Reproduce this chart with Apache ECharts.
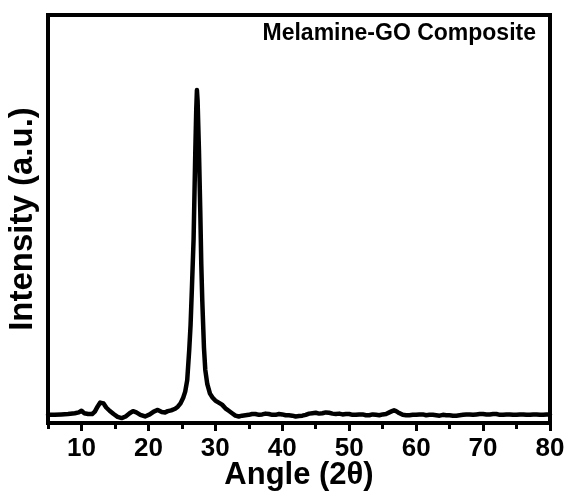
<!DOCTYPE html>
<html>
<head>
<meta charset="utf-8">
<style>
  html, body { margin: 0; padding: 0; background: #fff; }
  #chart { width: 569px; height: 495px; }
</style>
<script src="https://cdn.jsdelivr.net/npm/echarts@6/dist/echarts.min.js"></script>
</head>
<body>
<div id="chart"></div>
<script>
// XRD pattern of the melamine-GO composite: diffraction angle (2θ, degrees)
const angles = [
  5, 6, 7, 8, 9, 9.6, 10, 10.4, 11, 11.6, 12.0, 12.4, 12.8, 13.0, 13.3, 13.7, 14.2, 14.8,
  15.4, 16.0, 16.6, 17.2, 17.7, 18.2, 18.8, 19.5, 20.2, 20.8, 21.4, 22.0, 22.5, 22.9, 23.4,
  24.0, 24.4, 24.8, 25.2, 25.5, 25.8, 26.1, 26.3, 26.5, 26.75, 27.0, 27.15, 27.25, 27.35,
  27.55, 27.75, 27.9, 28.05, 28.3, 28.5, 28.8, 29.2, 29.6, 30.0, 30.5, 31.0, 31.5, 32.0,
  32.5, 33.0, 33.5, 34, 34.5, 35, 35.5, 36, 36.5, 37, 37.5, 38, 38.5, 39, 39.5, 40, 40.5,
  41, 41.5, 42, 42.5, 43, 43.5, 44, 44.5, 45, 45.5, 46, 46.5, 47, 47.5, 48, 48.5, 49, 49.5,
  50, 50.5, 51, 51.5, 52, 52.5, 53, 53.5, 54, 54.5, 55, 55.5, 56, 56.4, 56.7, 57.0, 57.3,
  58, 58.5, 59, 59.5, 60, 60.5, 61, 61.5, 62, 62.5, 63, 63.5, 64, 64.5, 65, 65.5, 66, 66.5,
  67, 67.5, 68, 68.5, 69, 69.5, 70, 70.5, 71, 71.5, 72, 72.5, 73, 73.5, 74, 74.5, 75, 75.5,
  76, 76.5, 77, 77.5, 78, 78.5, 79, 79.5, 80
];
// Intensity in arbitrary units, one value per angle above
const intensity = [
  2.0, 2.0, 2.1, 2.2, 2.4, 2.6, 3.0, 2.4, 2.2, 2.2, 2.8, 4.0, 5.0, 5.2, 4.8, 3.8, 3.0, 2.2,
  1.5, 1.2, 1.6, 2.4, 2.9, 2.6, 2.0, 1.6, 2.1, 2.8, 3.2, 2.7, 2.6, 2.9, 3.1,
  3.5, 4.0, 4.8, 6.2, 7.7, 10.5, 17.9, 24.0, 33.0, 45.0, 66.0, 77.0, 81.6, 79.0,
  67.0, 52.0, 39.0, 30.0, 18.5, 13.0, 9.5, 7.2, 6.2, 5.5, 5.0, 4.5, 3.6, 3.0,
  2.4, 1.8, 1.6, 1.8, 1.9, 2.0, 2.2, 2.2, 2.0, 2.1, 2.3, 2.2, 2.0, 2.0, 2.2, 2.1, 1.9,
  1.9, 1.8, 1.6, 1.7, 1.8, 2.0, 2.3, 2.4, 2.5, 2.3, 2.4, 2.6, 2.5, 2.3, 2.2, 2.3, 2.1, 2.2,
  2.2, 2.0, 2.0, 2.1, 2.1, 1.9, 1.9, 2.1, 2.0, 1.9, 2.1, 2.2, 2.6, 2.9, 3.1, 2.9, 2.6,
  2.0, 1.9, 1.9, 2.0, 2.0, 2.1, 2.1, 1.9, 2.0, 2.0, 1.9, 1.8, 2.0, 1.9, 1.9, 1.8, 1.8, 1.9,
  2.0, 2.1, 2.1, 2.0, 2.1, 2.2, 2.2, 2.1, 2.1, 2.2, 2.2, 2.0, 2.0, 2.1, 2.1, 2.0, 2.0, 2.1,
  2.1, 2.0, 2.0, 2.1, 2.1, 2.0, 2.0, 2.1, 2.1
];
// Labelled (major) and unlabelled (minor) tick positions on the angle axis
const majorTicks = [10, 20, 30, 40, 50, 60, 70, 80];
const minorTicks = [5, 15, 25, 35, 45, 55, 65, 75];

const FONT = '"Liberation Sans", Arial, sans-serif';
const points = angles.map((a, i) => [a, intensity[i]]);

const chart = echarts.init(document.getElementById('chart'), null, { renderer: 'canvas' });
chart.setOption({
  animation: false,
  backgroundColor: '#ffffff',
  title: {
    text: 'Melamine-GO Composite',
    right: 28,
    top: 17,
    textStyle: { fontFamily: FONT, fontWeight: 'bold', fontSize: 23, color: '#000' }
  },
  grid: {
    left: 48, right: 19, top: 15, bottom: 72,
    outerBoundsMode: 'none',
    show: true, borderColor: '#000', borderWidth: 4, backgroundColor: 'transparent'
  },
  xAxis: [
    {
      type: 'value', min: 5, max: 80,
      name: 'Angle (2θ)', nameLocation: 'middle', nameGap: 37, nameMoveOverlap: false,
      nameTextStyle: { fontFamily: FONT, fontWeight: 'bold', fontSize: 31, color: '#000' },
      axisLine: { show: true, lineStyle: { color: '#000', width: 4 } },
      axisTick: { show: true, customValues: majorTicks, length: 8, inside: false,
                  lineStyle: { color: '#000', width: 3 } },
      axisLabel: { customValues: majorTicks, margin: 13, color: '#000',
                   fontFamily: FONT, fontWeight: 'bold', fontSize: 26 },
      splitLine: { show: false }
    },
    {
      type: 'value', min: 5, max: 80, position: 'bottom',
      axisLine: { show: false },
      axisTick: { show: true, customValues: minorTicks, length: 6, inside: false,
                  lineStyle: { color: '#000', width: 3 } },
      axisLabel: { show: false },
      splitLine: { show: false }
    }
  ],
  yAxis: {
    type: 'value', min: 0, max: 100,
    name: 'Intensity (a.u.)', nameLocation: 'middle', nameGap: 9, nameRotate: 90,
    nameMoveOverlap: false,
    nameTextStyle: { fontFamily: FONT, fontWeight: 'bold', fontSize: 33, color: '#000' },
    axisLine: { show: false },
    axisTick: { show: false },
    axisLabel: { show: false },
    splitLine: { show: false }
  },
  series: [{
    type: 'line',
    data: points,
    showSymbol: false,
    smooth: false,
    lineStyle: { color: '#000', width: 4.5, join: 'round', cap: 'round' },
    clip: true
  }]
});
</script>
</body>
</html>
